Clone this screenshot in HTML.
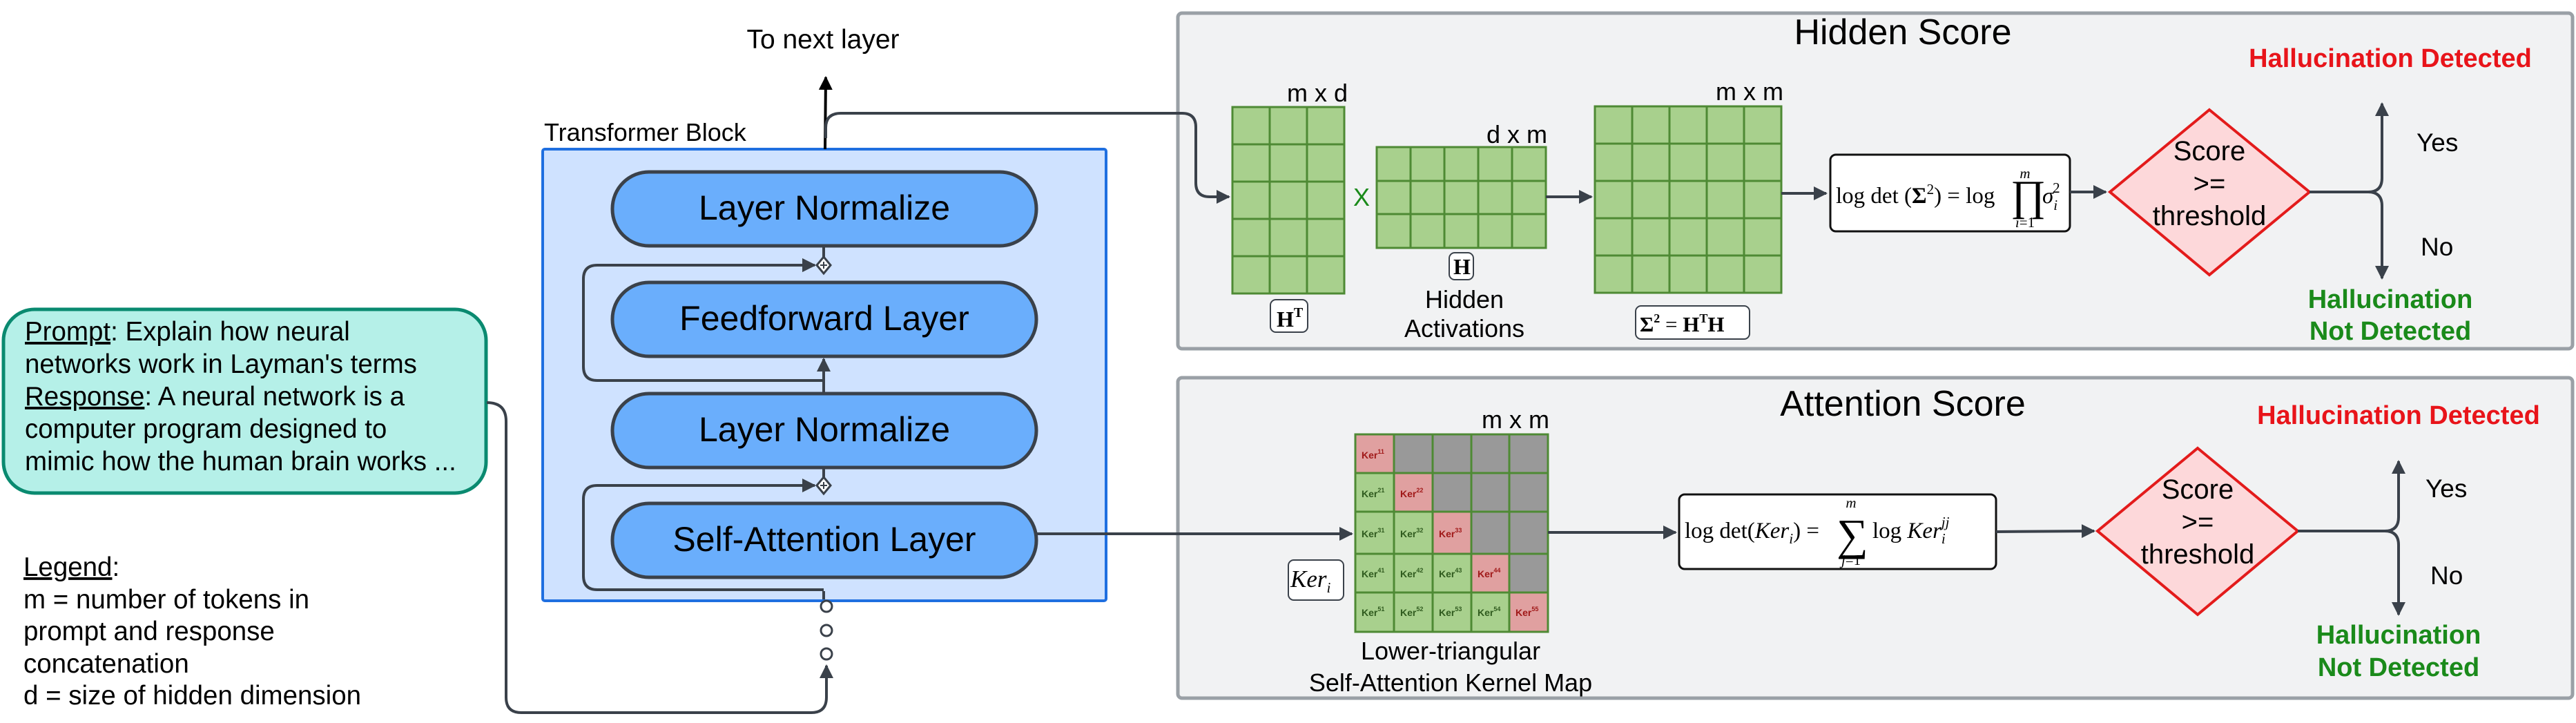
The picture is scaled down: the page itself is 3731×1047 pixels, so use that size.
<!DOCTYPE html>
<html><head><meta charset="utf-8"><style>
html,body{margin:0;padding:0;background:#fff;}
svg{display:block;}
text{font-family:"Liberation Sans",Arial,sans-serif;}
.m{font-family:"Liberation Serif","DejaVu Serif",serif;}
</style></head><body>
<svg width="3731" height="1047" viewBox="0 0 3731 1047" xmlns="http://www.w3.org/2000/svg">
<defs>
<marker id="ar" viewBox="0 0 10 10" refX="9" refY="5" markerWidth="5" markerHeight="5" orient="auto-start-reverse" markerUnits="strokeWidth"><path d="M0,0 L10,5 L0,10 z" fill="#3a414a"/></marker>
<marker id="ak" viewBox="0 0 10 10" refX="9" refY="5" markerWidth="5" markerHeight="5" orient="auto" markerUnits="strokeWidth"><path d="M0,0 L10,5 L0,10 z" fill="#000"/></marker>
</defs>

<rect x="1706" y="19" width="2020" height="486" rx="6" fill="#f1f2f3" stroke="#9aa0a6" stroke-width="5"/>
<rect x="1706" y="547" width="2020" height="464" rx="6" fill="#f1f2f3" stroke="#9aa0a6" stroke-width="5"/>
<text x="2756" y="64" font-size="52" text-anchor="middle">Hidden Score</text>
<text x="2756" y="602" font-size="52" text-anchor="middle">Attention Score</text>

<rect x="5" y="448" width="699" height="266" rx="45" fill="#b5f0e8" stroke="#0a8a70" stroke-width="5"/>
<g font-size="38.5">
<text x="36" y="493"><tspan text-decoration="underline">Prompt</tspan>: Explain how neural</text>
<text x="36" y="540">networks work in Layman's terms</text>
<text x="36" y="587"><tspan text-decoration="underline">Response</tspan>: A neural network is a</text>
<text x="36" y="634">computer program designed to</text>
<text x="36" y="681">mimic how the human brain works ...</text>
</g>
<g font-size="38.5">
<text x="34" y="834"><tspan text-decoration="underline">Legend</tspan>:</text>
<text x="34" y="881">m  = number of tokens in</text>
<text x="34" y="927">prompt and response</text>
<text x="34" y="974">concatenation</text>
<text x="34" y="1020">d = size of hidden dimension</text>
</g>

<text x="788" y="204" font-size="36">Transformer Block</text>
<text x="1192" y="70" font-size="39" text-anchor="middle">To next layer</text>
<rect x="786" y="216" width="816" height="654" rx="3" fill="#cfe2ff" stroke="#1f6fe0" stroke-width="4"/>
<g fill="#6aaefc" stroke="#3a414a" stroke-width="5">
<rect x="887" y="249" width="614" height="107" rx="53"/>
<rect x="887" y="409" width="614" height="107" rx="53"/>
<rect x="887" y="570" width="614" height="107" rx="53"/>
<rect x="887" y="729" width="614" height="107" rx="53"/>
</g>
<g font-size="50" text-anchor="middle">
<text x="1194" y="318">Layer Normalize</text>
<text x="1194" y="478">Feedforward Layer</text>
<text x="1194" y="639">Layer Normalize</text>
<text x="1194" y="798">Self-Attention Layer</text>
</g>
<g fill="none" stroke="#3a414a" stroke-width="4">
<path d="M1193,551 L865,551 Q845,551 845,531 L845,404 Q845,384 865,384 L1180,384" marker-end="url(#ar)"/>
<path d="M1193,570 L1193,520" marker-end="url(#ar)"/>
<path d="M1193,854 L865,854 Q845,854 845,834 L845,723 Q845,703 865,703 L1180,703"/>
<path d="M1193,395 L1193,356"/>
<path d="M1193,714 L1193,677"/>
<path d="M1193,868 L1193,856"/>
</g>
<path d="M1160,384 L1180,384" stroke="#3a414a" stroke-width="4" marker-end="url(#ar)"/>
<path d="M1160,703 L1180,703" stroke="#3a414a" stroke-width="4" marker-end="url(#ar)"/>
<g fill="#fff" stroke="#3a414a" stroke-width="3">
<path d="M1193,372 L1203,384 L1193,396 L1183,384 z"/>
<path d="M1193,691 L1203,703 L1193,715 L1183,703 z"/>
<circle cx="1197" cy="878" r="8"/><circle cx="1197" cy="913" r="8"/><circle cx="1197" cy="947" r="8"/>
</g>
<path d="M1188,384 h10 M1193,379 v10 M1188,703 h10 M1193,698 v10" stroke="#3a414a" stroke-width="2"/>
<path d="M1195,216 L1196,112" stroke="#000" stroke-width="4" fill="none" marker-end="url(#ak)"/>
<path d="M1196,200 L1196,185 Q1196,164 1218,164 L1712,164 Q1732,164 1732,184 L1732,265 Q1732,285 1752,285 L1780,285" stroke="#3a414a" stroke-width="4" fill="none" marker-end="url(#ar)"/>
<path d="M705,583 Q733,583 733,610 L733,1010 Q733,1032 755,1032 L1175,1032 Q1197,1032 1197,1010 L1197,964" stroke="#3a414a" stroke-width="4" fill="none" marker-end="url(#ar)"/>
<path d="M1501,773 L1958,773" stroke="#3a414a" stroke-width="4" fill="none" marker-end="url(#ar)"/>

<g fill="#a8d08d" stroke="#4e8a34" stroke-width="3">
<rect x="1785" y="155" width="162" height="270"/>
<rect x="1994" y="213" width="245" height="146"/>
<rect x="2310" y="154" width="270" height="270"/>
</g>
<g stroke="#4e8a34" stroke-width="3">
<path d="M1839,155v270M1893,155v270M1785,209h162M1785,263h162M1785,317h162M1785,371h162"/>
<path d="M2043,213v146M2092,213v146M2141,213v146M2190,213v146M1994,262h245M1994,310h245"/>
<path d="M2364,154v270M2418,154v270M2472,154v270M2526,154v270M2310,208h270M2310,262h270M2310,316h270M2310,370h270"/>
</g>
<g font-size="36">
<text x="1952" y="147" text-anchor="end">m x d</text>
<text x="2241" y="207" text-anchor="end">d x m</text>
<text x="2583" y="145" text-anchor="end">m x m</text>
<text x="1972" y="298" fill="#1a8a1a" text-anchor="middle">X</text>
<text x="2121" y="446" text-anchor="middle">Hidden</text>
<text x="2121" y="488" text-anchor="middle">Activations</text>
</g>
<g fill="#fff" stroke="#3a414a" stroke-width="2">
<rect x="1840" y="434" width="54" height="47" rx="8"/>
<rect x="2099" y="366" width="35" height="39" rx="8"/>
<rect x="2369" y="443" width="165" height="48" rx="8"/>
</g>
<g class="m" font-weight="bold">
<text x="1849" y="473" font-size="32" class="m">H<tspan font-size="20" dy="-14">T</tspan></text>
<text x="2105" y="397" font-size="32" class="m">H</text>
<text x="2375" y="480" font-size="31" class="m">Σ<tspan font-size="18" dy="-13">2</tspan><tspan dy="13" font-weight="normal"> = </tspan>H<tspan font-size="18" dy="-13">T</tspan><tspan dy="13">H</tspan></text>
</g>
<path d="M2239,285 L2305,285" stroke="#3a414a" stroke-width="4" marker-end="url(#ar)"/>
<path d="M2580,280 L2645,280" stroke="#3a414a" stroke-width="4" marker-end="url(#ar)"/>
<rect x="2651" y="224" width="347" height="111" rx="8" fill="#fff" stroke="#111" stroke-width="3"/>
<text class="m" x="2659" y="294" font-size="33">log det (<tspan font-weight="bold">Σ</tspan><tspan font-size="21" dy="-13">2</tspan><tspan dy="13">) = log</tspan></text>
<text class="m" x="2912" y="304" font-size="62">∏</text>
<text class="m" x="2933" y="258" font-size="21" font-style="italic" text-anchor="middle">m</text>
<text class="m" x="2933" y="329" font-size="21" text-anchor="middle"><tspan font-style="italic">i</tspan>=1</text>
<text class="m" x="2958" y="294" font-size="33" font-style="italic">σ<tspan font-size="21" dy="10">i</tspan><tspan font-size="21" dx="-7" dy="-25" font-style="normal">2</tspan></text>
<path d="M2998,278 L3050,278" stroke="#3a414a" stroke-width="4" marker-end="url(#ar)"/>
<path d="M3200,159 L3345,278 L3200,398 L3056,278 z" fill="#fdd8da" stroke="#e31b1b" stroke-width="4"/>
<g font-size="40" text-anchor="middle">
<text x="3200" y="232">Score</text><text x="3200" y="279">&gt;=</text><text x="3200" y="326">threshold</text>
</g>
<path d="M3345,278 L3430,278 Q3450,278 3450,258 L3450,150" stroke="#3a414a" stroke-width="4" fill="none" marker-end="url(#ar)"/>
<path d="M3430,278 Q3450,278 3450,298 L3450,403" stroke="#3a414a" stroke-width="4" fill="none" marker-end="url(#ar)"/>
<g font-size="37">
<text x="3500" y="219">Yes</text><text x="3506" y="370">No</text>
</g>
<g font-size="38" font-weight="bold" text-anchor="middle">
<text x="3462" y="97" fill="#e8141a">Hallucination Detected</text>
<text x="3462" y="446" fill="#1a8a1a">Hallucination</text>
<text x="3462" y="492" fill="#1a8a1a">Not Detected</text>
</g>

<rect x="1963" y="629" width="279" height="286" fill="#a8d08d" stroke="#4e8a34" stroke-width="3"/>
<g stroke="#4e8a34" stroke-width="2">
<rect x="2019" y="629" width="223" height="56" fill="#999"/>
<rect x="2075" y="685" width="167" height="56" fill="#999"/>
<rect x="2131" y="741" width="111" height="61" fill="#999"/>
<rect x="2186" y="802" width="56" height="56" fill="#999"/>
<rect x="1963" y="629" width="56" height="56" fill="#e0a0a0"/>
<rect x="2019" y="685" width="56" height="56" fill="#e0a0a0"/>
<rect x="2075" y="741" width="56" height="61" fill="#e0a0a0"/>
<rect x="2131" y="802" width="55" height="56" fill="#e0a0a0"/>
<rect x="2186" y="858" width="56" height="57" fill="#e0a0a0"/>
</g>
<g stroke="#4e8a34" stroke-width="3" fill="none">
<path d="M2019,629v286M2075,629v286M2131,629v286M2186,629v286M1963,685h279M1963,741h279M1963,802h279M1963,858h279"/>
<rect x="1963" y="629" width="279" height="286"/>
</g>
<g font-size="14" font-weight="bold" fill="#2f5a1e">
<text x="1972" y="664" fill="#a01818">Ker<tspan font-size="9" dy="-7">11</tspan></text>
<text x="1972" y="720">Ker<tspan font-size="9" dy="-7">21</tspan></text>
<text x="2028" y="720" fill="#a01818">Ker<tspan font-size="9" dy="-7">22</tspan></text>
<text x="1972" y="778">Ker<tspan font-size="9" dy="-7">31</tspan></text>
<text x="2028" y="778">Ker<tspan font-size="9" dy="-7">32</tspan></text>
<text x="2084" y="778" fill="#a01818">Ker<tspan font-size="9" dy="-7">33</tspan></text>
<text x="1972" y="836">Ker<tspan font-size="9" dy="-7">41</tspan></text>
<text x="2028" y="836">Ker<tspan font-size="9" dy="-7">42</tspan></text>
<text x="2084" y="836">Ker<tspan font-size="9" dy="-7">43</tspan></text>
<text x="2140" y="836" fill="#a01818">Ker<tspan font-size="9" dy="-7">44</tspan></text>
<text x="1972" y="892">Ker<tspan font-size="9" dy="-7">51</tspan></text>
<text x="2028" y="892">Ker<tspan font-size="9" dy="-7">52</tspan></text>
<text x="2084" y="892">Ker<tspan font-size="9" dy="-7">53</tspan></text>
<text x="2140" y="892">Ker<tspan font-size="9" dy="-7">54</tspan></text>
<text x="2195" y="892" fill="#a01818">Ker<tspan font-size="9" dy="-7">55</tspan></text>
</g>
<text x="2244" y="620" font-size="36" text-anchor="end">m x m</text>
<rect x="1866" y="811" width="80" height="58" rx="8" fill="#fff" stroke="#3a414a" stroke-width="2"/>
<text class="m" x="1869" y="850" font-size="35" font-style="italic">Ker<tspan font-size="21" dy="8">i</tspan></text>
<g font-size="36" text-anchor="middle">
<text x="2101" y="955">Lower-triangular</text>
<text x="2101" y="1001">Self-Attention Kernel Map</text>
</g>
<path d="M2242,771 L2427,771" stroke="#3a414a" stroke-width="4" marker-end="url(#ar)"/>
<rect x="2432" y="716" width="459" height="108" rx="8" fill="#fff" stroke="#111" stroke-width="3"/>
<text class="m" x="2440" y="779" font-size="33">log det(<tspan font-style="italic">Ker</tspan><tspan font-size="21" font-style="italic" dy="8">i</tspan><tspan dy="-8">)  =</tspan></text>
<text class="m" x="2660" y="796" font-size="64">∑</text>
<text class="m" x="2681" y="735" font-size="21" font-style="italic" text-anchor="middle">m</text>
<text class="m" x="2681" y="818" font-size="21" text-anchor="middle"><tspan font-style="italic">j</tspan>=1</text>
<text class="m" x="2712" y="779" font-size="33">log <tspan font-style="italic">Ker</tspan><tspan font-size="21" font-style="italic" dy="8">i</tspan><tspan font-size="21" font-style="italic" dx="-6" dy="-24">jj</tspan></text>
<path d="M2891,770 L3033,769" stroke="#3a414a" stroke-width="4" marker-end="url(#ar)"/>
<path d="M3183,649 L3328,769 L3183,890 L3038,769 z" fill="#fdd8da" stroke="#e31b1b" stroke-width="4"/>
<g font-size="40" text-anchor="middle">
<text x="3183" y="722">Score</text><text x="3183" y="769">&gt;=</text><text x="3183" y="816">threshold</text>
</g>
<path d="M3328,769 L3454,769 Q3474,769 3474,749 L3474,668" stroke="#3a414a" stroke-width="4" fill="none" marker-end="url(#ar)"/>
<path d="M3454,769 Q3474,769 3474,789 L3474,890" stroke="#3a414a" stroke-width="4" fill="none" marker-end="url(#ar)"/>
<g font-size="37">
<text x="3513" y="720">Yes</text><text x="3520" y="846">No</text>
</g>
<g font-size="38" font-weight="bold" text-anchor="middle">
<text x="3474" y="614" fill="#e8141a">Hallucination Detected</text>
<text x="3474" y="932" fill="#1a8a1a">Hallucination</text>
<text x="3474" y="979" fill="#1a8a1a">Not Detected</text>
</g>
</svg>
</body></html>
